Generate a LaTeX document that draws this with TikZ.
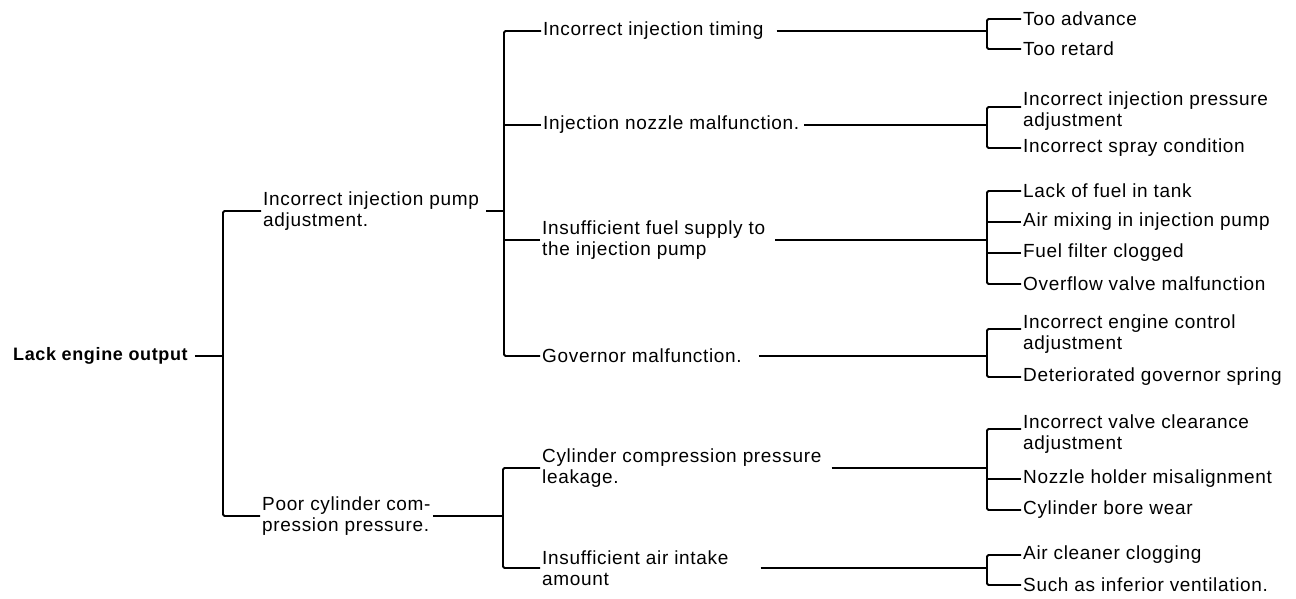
\documentclass[tikz,border=0pt]{standalone}
\usepackage{fontspec}
\setmainfont{Liberation Sans}[LetterSpace=3.5]
\begin{document}
\begin{tikzpicture}[x=1pt,y=-1pt,
  txt/.style={anchor=west, inner xsep=2pt, inner ysep=0pt, align=left, font=\fontsize{19}{21}\selectfont},
  leaf/.style={anchor=west, inner xsep=2pt, inner ysep=0pt, align=left, font=\fontsize{19}{21}\selectfont},
  ln/.style={line width=1.8pt, rounded corners=1.5pt},
  lnthin/.style={line width=1.1pt}]
\fill[white] (0,0) rectangle (1296,598);
\useasboundingbox (0,0) rectangle (1296,598);
% column x positions
\coordinate (x0) at (223,0);
\coordinate (xA) at (504,0);
\coordinate (xB) at (503,0);
\coordinate (xL) at (987,0);
% root
\node[txt, font=\fontsize{18}{21}\selectfont\bfseries, inner xsep=0pt] (root) at (13,356) {Lack engine output};
% level 1
\node[txt] (A) at (261,211) {Incorrect injection pump\\adjustment.};
\node[txt] (B) at (260,516) {Poor cylinder com-\\pression pressure.};
% level 2
\node[txt] (A1) at (541,31) {Incorrect injection timing};
\node[txt] (A2) at (541,125) {Injection nozzle malfunction.};
\node[txt] (A3) at (540,240) {Insufficient fuel supply to\\the injection pump};
\node[txt] (A4) at (540,356) {Governor malfunction.};
\node[txt] (B1) at (540,468) {Cylinder compression pressure\\leakage.};
\node[txt] (B2) at (540,568) {Insufficient air intake\\amount};
% leaves
\node[leaf] (La1) at (1021,19) {Too advance};
\node[leaf] (La2) at (1021,49) {Too retard};
\node[leaf] (Lb1) at (1021,111) {Incorrect injection pressure\\adjustment};
\node[leaf] (Lb2) at (1021,148) {Incorrect spray condition};
\node[leaf] (Lc1) at (1021,191) {Lack of fuel in tank};
\node[leaf] (Lc2) at (1021,222) {Air mixing in injection pump};
\node[leaf] (Lc3) at (1021,253) {Fuel filter clogged};
\node[leaf] (Lc4) at (1021,284) {Overflow valve malfunction};
\node[leaf] (Ld1) at (1021,334) {Incorrect engine control\\adjustment};
\node[leaf] (Ld2) at (1021,377) {Deteriorated governor spring};
\node[leaf] (Le1) at (1021,434) {Incorrect valve clearance\\adjustment};
\node[leaf] (Le2) at (1021,479) {Nozzle holder misalignment};
\node[leaf] (Le3) at (1021,510) {Cylinder bore wear};
\node[leaf] (Lf1) at (1021,555) {Air cleaner clogging};
\node[leaf] (Lf2) at (1021,585) {Such as inferior ventilation.};
% root connectors
\draw[ln] ([xshift=7pt]root.east) -- (root.east -| x0);
\draw[ln] (A.west) -- (A.west -| x0) -- (B.west -| x0) -- (B.west);
% level 1 out
\draw[ln] ([xshift=5pt]A.east) -- (A.east -| xA);
\draw[ln] (B.east) -- (B.east -| xB);
% level 2 in (A)
\draw[ln] (A1.west) -- (A1.west -| xA) -- (A4.west -| xA) -- (A4.west);
\draw[ln] (A2.west) -- (A2.west -| xA);
\draw[lnthin] (A3.west) -- (A3.west -| xA);
% level 2 in (B)
\draw[ln] (B1.west) -- (B1.west -| xB) -- (B2.west -| xB) -- (B2.west);
% level 2 out
\draw[ln] ([xshift=11pt]A1.east) -- (A1.east -| xL);
\draw[ln] ([xshift=3pt]A2.east) -- (A2.east -| xL);
\draw[ln] ([xshift=8pt]A3.east) -- (A3.east -| xL);
\draw[ln] ([xshift=15pt]A4.east) -- (A4.east -| xL);
\draw[ln] ([xshift=8pt]B1.east) -- (B1.east -| xL);
\draw[ln] ([xshift=30pt]B2.east) -- (B2.east -| xL);
% leaf brackets
\draw[ln] (La1.west) -- (La1.west -| xL) -- (La2.west -| xL) -- (La2.west);
\draw[ln] ([yshift=4pt]Lb1.west) -- ([yshift=4pt]Lb1.west -| xL) -- (Lb2.west -| xL) -- (Lb2.west);
\draw[ln] (Lc1.west) -- (Lc1.west -| xL) -- (Lc4.west -| xL) -- (Lc4.west);
\draw[ln] (Lc2.west) -- (Lc2.west -| xL);
\draw[ln] (Lc3.west) -- (Lc3.west -| xL);
\draw[ln] ([yshift=5pt]Ld1.west) -- ([yshift=5pt]Ld1.west -| xL) -- (Ld2.west -| xL) -- (Ld2.west);
\draw[ln] ([yshift=5pt]Le1.west) -- ([yshift=5pt]Le1.west -| xL) -- (Le3.west -| xL) -- (Le3.west);
\draw[ln] (Le2.west) -- (Le2.west -| xL);
\draw[ln] (Lf1.west) -- (Lf1.west -| xL) -- (Lf2.west -| xL) -- (Lf2.west);
\end{tikzpicture}
\end{document}
